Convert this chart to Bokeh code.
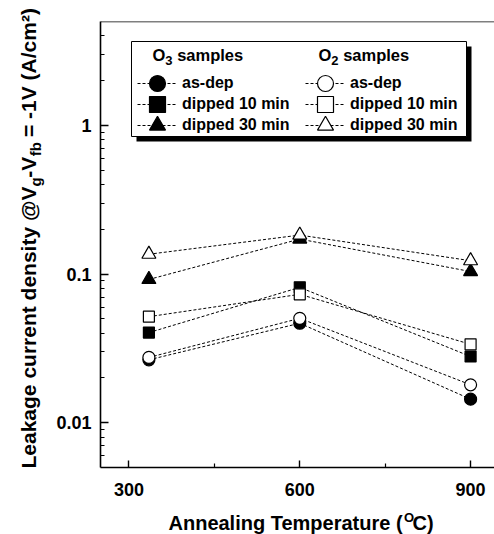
import math
from bokeh.plotting import figure
from bokeh.models import (Range1d, FixedTicker, CustomJSTickFormatter, Span, Label,
                          BoxAnnotation, Legend, LegendItem)
from bokeh.embed import file_html
from bokeh.resources import INLINE

# ---------------- data ----------------
temps = [335, 600, 900]
o3_as_dep = [0.0265, 0.0467, 0.0144]
o3_dip10 = [0.0404, 0.0814, 0.0279]
o3_dip30 = [0.092, 0.172, 0.104]
o2_as_dep = [0.0275, 0.0504, 0.0180]
o2_dip10 = [0.0517, 0.0731, 0.0337]
o2_dip30 = [0.136, 0.183, 0.123]

series_labels = ["as-dep", "dipped 10 min", "dipped 30 min"]
x_ticks = [300, 600, 900]
x_minor = [450, 750]
y_ticks = [0.01, 0.1, 1]
y_minor = [0.006, 0.007, 0.008, 0.009,
           0.02, 0.03, 0.04, 0.05, 0.06, 0.07, 0.08, 0.09,
           0.2, 0.3, 0.4, 0.5, 0.6, 0.7, 0.8, 0.9,
           2, 3, 4]
x_start, x_end = 250, 942
y_start, y_end = 0.005, 5

FONT = "Liberation Sans"

# Arial/Liberation Sans Bold advance widths (per 1000 em)
W = {' ': 278, '(': 333, ')': 333, '-': 333, '/': 278, '=': 584, '@': 975,
     '1': 556, '2': 556, '3': 556, 'A': 722, 'C': 722, 'L': 611, 'O': 778,
     'T': 611, 'V': 667, 'a': 556, 'b': 611, 'c': 556, 'd': 611, 'e': 556,
     'f': 333, 'g': 611, 'i': 278, 'k': 556, 'l': 278, 'm': 889, 'n': 611,
     'p': 611, 'r': 389, 's': 556, 't': 333, 'u': 611, 'y': 556}


def tw(s, size):
    return sum(W.get(c, 556) for c in s) * size / 1000.0


FRAME_L, FRAME_T, FRAME_B = 100, 21, 467
WIDTH, HEIGHT = 494, 534

p = figure(width=WIDTH, height=HEIGHT,
           x_range=Range1d(x_start, x_end), y_range=Range1d(y_start, y_end),
           y_axis_type="log", output_backend="svg", toolbar_location=None,
           min_border_left=FRAME_L, min_border_right=0, min_border_top=FRAME_T,
           min_border_bottom=HEIGHT - FRAME_B)
p.outline_line_color = None
p.grid.visible = False
p.background_fill_color = "white"
p.border_fill_color = "white"

for ax in (p.xaxis[0], p.yaxis[0]):
    ax.axis_line_width = 1.6
    ax.axis_line_color = "black"
    ax.major_tick_line_width = 1.4
    ax.minor_tick_line_width = 1.2
    ax.major_tick_line_color = "black"
    ax.minor_tick_line_color = "black"
    ax.major_tick_out = 0
    ax.minor_tick_out = 0
    ax.major_label_text_font = FONT
    ax.major_label_text_font_style = "bold"
    ax.major_label_text_font_size = "18px"
    ax.major_label_text_color = "black"

p.xaxis.ticker = FixedTicker(ticks=x_ticks, minor_ticks=x_minor)
p.xaxis.major_tick_in = 7
p.xaxis.minor_tick_in = 4
p.xaxis.major_label_standoff = 15

p.yaxis.ticker = FixedTicker(ticks=y_ticks, minor_ticks=y_minor)
p.yaxis.formatter = CustomJSTickFormatter(code="return tick.toString();")
p.yaxis.major_tick_in = 8
p.yaxis.minor_tick_in = 4
p.yaxis.major_label_standoff = 9

p.add_layout(Span(location=y_end, dimension="width", line_color="black", line_width=1.6))

# ---------------- data series ----------------
DASH = "3 2"
o3_series = [(o3_as_dep, "circle", 12), (o3_dip10, "square", 11), (o3_dip30, "triangle", 14)]
o2_series = [(o2_as_dep, "circle", 12), (o2_dip10, "square", 11), (o2_dip30, "triangle", 14)]

o3_items, o2_items = [], []
for (vals, mk, sz), lab in zip(o3_series, series_labels):
    lr = p.line(temps, vals, line_color="black", line_width=1, line_dash=DASH)
    sr = p.scatter(temps, vals, marker=mk, size=sz, fill_color="black",
                   line_color="black", line_width=1.2)
    o3_items.append(LegendItem(label=lab, renderers=[lr, sr]))
for (vals, mk, sz), lab in zip(o2_series, series_labels):
    lr = p.line(temps, vals, line_color="black", line_width=1, line_dash=DASH)
    sr = p.scatter(temps, vals, marker=mk, size=sz, fill_color="white",
                   line_color="black", line_width=1.2)
    o2_items.append(LegendItem(label=lab, renderers=[lr, sr]))


# ---------------- legend box with shadow (screen units, frame relative) ----------------
def box(l, t, r, b, **kw):
    return BoxAnnotation(left=l - FRAME_L, right=r - FRAME_L,
                         top=FRAME_B - t, bottom=FRAME_B - b,
                         left_units="screen", right_units="screen",
                         top_units="screen", bottom_units="screen", **kw)


p.add_layout(box(136, 46, 471, 141, fill_color="black", fill_alpha=1, line_color=None))
p.add_layout(box(131, 41, 466, 136, fill_color="white", fill_alpha=1,
                 line_color="black", line_width=1, line_alpha=1))

ROW_Y = [83, 104, 125]
GLYPH_H = 40
for items, gx in ((o3_items, 137), (o2_items, 305)):
    for item, cy in zip(items, ROW_Y):
        leg = Legend(items=[item], location=(gx - FRAME_L, FRAME_B - (cy + GLYPH_H / 2)),
                     glyph_width=40, glyph_height=GLYPH_H, spacing=0, label_standoff=5,
                     padding=0, margin=0, border_line_color=None, background_fill_alpha=0,
                     label_text_font=FONT, label_text_font_style="bold",
                     label_text_font_size="16px", label_text_color="black",
                     label_height=20)
        p.add_layout(leg)

BASE_FIX = 0.38  # empirical offset of the rendered baseline, in em


def text_label(txt, cx, cy, fs, angle=0.0, place="center"):
    """cx, cy: wanted canvas pixels (y down) of the text start on its baseline."""
    if angle:
        cx -= BASE_FIX * fs
    else:
        cy -= BASE_FIX * fs
    if place == "center":
        lab = Label(x=cx - FRAME_L, y=FRAME_B - cy, x_units="screen", y_units="screen")
    else:
        lab = Label(x=cx, y=cy, x_units="canvas", y_units="canvas")
    lab.update(text=txt, angle=angle, text_font=FONT, text_font_style="bold",
               text_font_size=f"{fs}px", text_color="black",
               text_align="left", text_baseline="alphabetic")
    p.add_layout(lab, place)


# legend headers (inside the frame)
for name, sub, hx in (("O", "3", 152), ("O", "2", 318)):
    text_label(name, hx, 61, 16.5)
    text_label(sub, hx + tw(name, 16.5), 65, 13)
    text_label("samples", hx + tw(name, 16.5) + tw(sub, 13) + tw(" ", 16.5), 61, 16.5)

# x axis title: main text with a gap for the superscript
XT_X, XT_Y, XT_FS, XT_SUP = 168, 530, 20, 13
x_main = "Annealing Temperature ("
text_label(x_main + "\u2002C)", XT_X, XT_Y, XT_FS, place="below")
text_label("O", XT_X + tw(x_main, XT_FS), XT_Y - 8, XT_SUP, place="above")

# y axis title (rotated): main text with gaps for the subscripts
YT_X, YT_Y, YT_FS, YT_SUB = 36, 468, 21, 15
y_part1 = "Leakage current density @V"
y_main = y_part1 + "\u2005\u2006-V\u2002\u2006 = -1V (A/cm\u00b2)"
text_label(y_main, YT_X, YT_Y, YT_FS, angle=math.pi / 2, place="left")
text_label("g\u2003\u2005\u2006fb", YT_X + 5, YT_Y - tw(y_part1, YT_FS), YT_SUB,
           angle=math.pi / 2, place="left")

open("out.html", "w").write(file_html(p, INLINE))
